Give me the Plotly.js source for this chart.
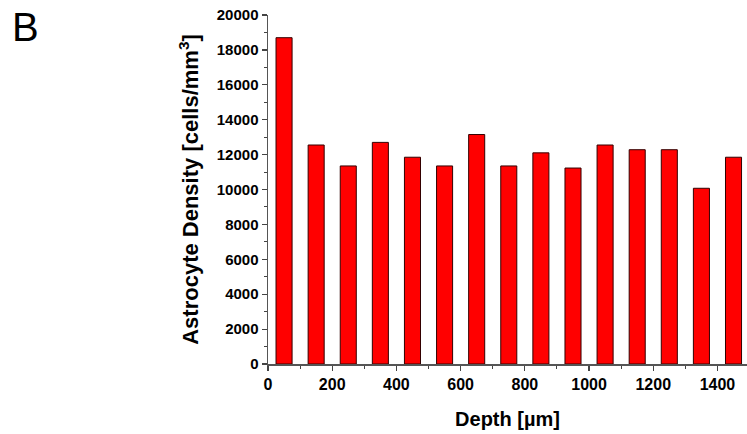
<!DOCTYPE html>
<html>
<head>
<meta charset="utf-8">
<script src="https://cdn.plot.ly/plotly-3.0.1.min.js"></script>
<style>html,body{margin:0;padding:0;background:#fff;}#chart{width:747px;height:434px;}</style>
</head>
<body>
<div id="chart"></div>
<script>
// Depth bin centres (µm)
const depths = [50, 150, 250, 350, 450, 550, 650, 750, 850, 950, 1050, 1150, 1250, 1350, 1450];
// Astrocyte density (cells/mm^3)
const densities = [18700, 12550, 11350, 12700, 11850, 11350, 13150, 11350, 12100, 11230, 12550, 12280, 12280, 10070, 11850];
const yTickVals = [0, 2000, 4000, 6000, 8000, 10000, 12000, 14000, 16000, 18000, 20000];
const yTickText = ['0', '2000', '4000', '6000', '8000', '10000', '12000', '14000', '16000', '18000', '20000'];
const xTickVals = [0, 200, 400, 600, 800, 1000, 1200, 1400];
const xTickText = ['0', '200', '400', '600', '800', '1000', '1200', '1400'];

const fontFam = 'Liberation Sans, Arial, sans-serif';
const trace = {
  type: 'bar',
  x: depths,
  y: densities,
  width: 50,
  marker: {color: '#ff0000', line: {color: '#330000', width: 1}},
  hoverinfo: 'x+y'
};

const layout = {
  width: 747, height: 434,
  margin: {l: 268, r: 0, t: 15, b: 70, pad: 0},
  paper_bgcolor: '#ffffff', plot_bgcolor: '#ffffff',
  showlegend: false,
  font: {family: fontFam, color: '#000'},
  xaxis: {
    range: [0, 1492], tickmode: 'array', tickvals: xTickVals, ticktext: xTickText,
    ticks: 'outside', ticklen: 5, tickwidth: 1.2, tickcolor: '#444',
    minor: {dtick: 100, tick0: 0, ticks: 'outside', ticklen: 3, tickcolor: '#444', tickwidth: 1},
    showline: true, linecolor: '#555', linewidth: 1.5,
    showgrid: false, zeroline: false,
    tickfont: {size: 16, weight: 'bold', family: fontFam},
    title: {text: 'Depth [µm]', font: {size: 20, weight: 'bold', family: fontFam}, standoff: 20}
  },
  yaxis: {
    range: [0, 20000], tickmode: 'array', tickvals: yTickVals, ticktext: yTickText,
    ticks: 'outside', ticklen: 5, tickwidth: 1.2, tickcolor: '#444',
    minor: {dtick: 1000, tick0: 0, ticks: 'outside', ticklen: 3, tickcolor: '#444', tickwidth: 1},
    showline: true, linecolor: '#555', linewidth: 1.5,
    showgrid: false, zeroline: false,
    tickfont: {size: 15, weight: 'bold', family: fontFam},
    title: {text: 'Astrocyte Density [cells/mm<sup>3</sup>]', font: {size: 22, weight: 'bold', family: fontFam}, standoff: 12}
  },
  annotations: [{
    text: 'B', xref: 'paper', yref: 'paper', x: -268/479, y: 1 + 15/349,
    xanchor: 'left', yanchor: 'top', xshift: 10, yshift: -3, showarrow: false,
    font: {size: 40, family: fontFam, color: '#000'}
  }]
};

Plotly.newPlot('chart', [trace], layout, {displayModeBar: false, staticPlot: true});
</script>
</body>
</html>
